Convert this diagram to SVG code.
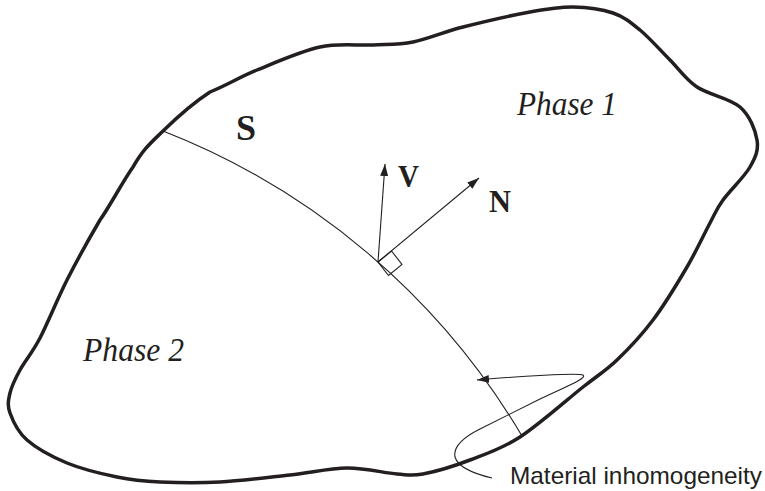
<svg xmlns="http://www.w3.org/2000/svg" width="765" height="491" viewBox="0 0 765 491">
  <style>
    .outline { fill: none; stroke: #231f20; stroke-width: 3.5; stroke-linejoin: round; }
    .thin { fill: none; stroke: #231f20; stroke-width: 1.1; }
    .serif { font-family: "Liberation Serif", "Times New Roman", serif; fill: #231f20; }
    .bold { font-weight: bold; }
    .ital { font-style: italic; }
    .sans { font-family: "Liberation Sans", Arial, sans-serif; fill: #231f20; }
  </style>
  <defs>
    <marker id="arrow" markerUnits="userSpaceOnUse" viewBox="-12 -5 13 10" markerWidth="13" markerHeight="10" refX="0" refY="0" orient="auto">
      <path d="M0,0 L-12,-4 L-12,4 z" fill="#231f20"/>
    </marker>
  </defs>
  <rect width="765" height="491" fill="#ffffff"/>

  <g id="outline">
    <path class="outline" d="M163,131 C175.8,118.5 194.3,102.2 210,92 C228.3,84.5 238.7,77.5 257,70 C275.3,62.5 300.7,51.2 320,47 C339.3,42.8 357.5,45.8 373,45 C388.5,44.2 398,45 413,42 C428,39 443.5,32 463,27 C482.5,22 511.7,15.3 530,12 C548.3,8.7 559.2,6.8 573,7 C586.8,7.2 601.8,9.2 613,13 C624.2,16.8 630.5,22.2 640,30 C649.5,37.8 660.5,50.5 670,60 C679.5,69.5 685.3,79.2 697,87 C708.7,94.8 730,98.2 740,107 C750,115.8 755.3,130 757,140 C758.7,150 755.7,157 750,167 C744.3,177 729.7,190.7 723,200 C716.3,209.3 716,211.8 710,223 C704,234.2 696.5,250.8 687,267 C677.5,283.2 664.7,304.5 653,320 C641.3,335.5 628.7,348.8 617,360 C605.3,371.2 599.2,374.2 583,387 C566.8,399.8 538.8,424.8 520,437 C501.2,449.2 486.2,453.8 470,460 C453.8,466.2 435.2,471.7 423,474 C410.8,476.3 409.7,475 397,474 C384.3,473 364.8,467.8 347,468 C329.2,468.2 311.2,472.7 290,475 C268.8,477.3 241.7,480.8 220,482 C198.3,483.2 177.2,482.8 160,482 C142.8,481.2 132.5,480.2 117,477 C101.5,473.8 82,469.2 67,463 C52,456.8 36.5,448.3 27,440 C17.5,431.7 12.8,420.8 10,413 C7.2,405.2 8.3,400.2 10,393 C11.7,385.8 15,379.2 20,370 C25,360.8 32.2,353 40,338 C47.8,323 57,299.7 67,280 C77,260.3 89,238.8 100,220 C110.5,205.2 122.5,181.8 133,167 C144,148.2 150.2,143.5 163,131 Z"/>
  </g>

  <g id="connectors">
    <path id="interface-S" class="thin" d="M163,131 A722,722 0 0 1 522,436"/>
    <line id="vec-V" class="thin" x1="378" y1="262" x2="385" y2="164" marker-end="url(#arrow)"/>
    <line id="vec-N" class="thin" x1="378" y1="262" x2="479" y2="178" marker-end="url(#arrow)"/>
    <polygon id="right-angle" class="thin" points="378,262 391.5,251 402,264.5 388.5,275.5"/>
    <path id="leader" class="thin" d="M492,478 C475,474 458,467 455,457 C453,447 462,438 480,429 L540,399 C565,387 588,378 583,375 C578,373 520,376 477,380" marker-end="url(#arrow)"/>
  </g>

  <g id="label-S"><text class="serif bold" x="236" y="140" font-size="36">S</text></g>
  <g id="label-V"><text class="serif bold" x="398" y="187" font-size="32" textLength="21" lengthAdjust="spacingAndGlyphs">V</text></g>
  <g id="label-N"><text class="serif bold" x="489" y="212" font-size="32" textLength="22" lengthAdjust="spacingAndGlyphs">N</text></g>
  <g id="label-phase1"><text class="serif ital" x="517" y="115" font-size="33" textLength="100" lengthAdjust="spacingAndGlyphs">Phase 1</text></g>
  <g id="label-phase2"><text class="serif ital" x="83" y="361" font-size="33" textLength="101" lengthAdjust="spacingAndGlyphs">Phase 2</text></g>
  <g id="label-material"><text class="sans" x="510" y="484" font-size="24" textLength="252" lengthAdjust="spacingAndGlyphs">Material inhomogeneity</text></g>
</svg>
